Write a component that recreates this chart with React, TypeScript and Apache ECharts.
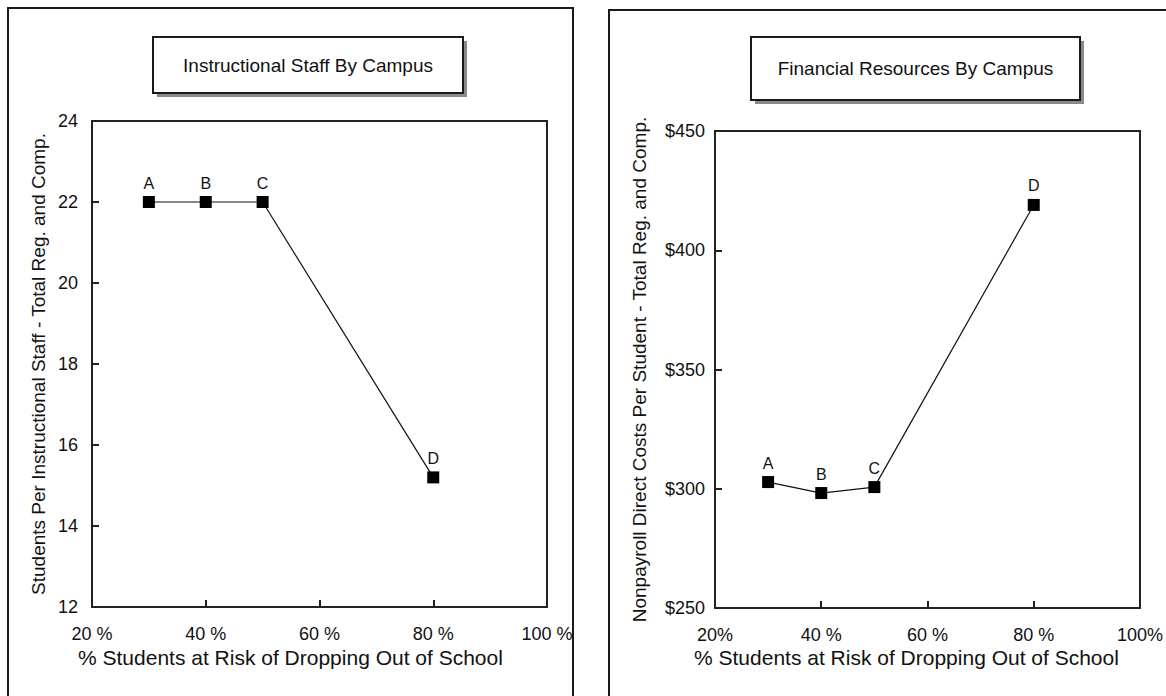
import React, { useEffect, useRef } from "react";
import * as echarts from "echarts";

const campuses = ["A", "B", "C", "D"];
const riskPct = [0.3, 0.4, 0.5, 0.8];
const staffRatio = [22, 22, 22, 15.2];
const costPerStudent = [302.8, 298.2, 300.7, 419];

const leftXTicks = ["20 %", "40 %", "60 %", "80 %", "100 %"];
const rightXTicks = ["20%", "40 %", "60 %", "80 %", "100%"];

const leftTitle = "Instructional Staff By Campus";
const rightTitle = "Financial Resources By Campus";
const xTitle = "% Students at Risk of Dropping Out of School";
const leftYTitle = "Students Per Instructional Staff - Total Reg. and Comp.";
const rightYTitle = "Nonpayroll Direct Costs Per Student - Total Reg. and Comp.";

const FONT = "'Liberation Sans', Arial, sans-serif";

function tickFormatter(ticks: string[]) {
  return (v: number) => {
    const idx = Math.round((v - 0.2) / 0.2);
    return ticks[idx] ?? "";
  };
}

function titleBox(x: number, y: number, w: number, h: number, text: string) {
  return [
    {
      type: "rect",
      shape: { x: x + 4, y: y + 4, width: w, height: h },
      style: { fill: "#8a8a8a" },
      silent: true,
    },
    {
      type: "rect",
      shape: { x, y, width: w, height: h },
      style: { fill: "#fff", stroke: "#1a1a1a", lineWidth: 2 },
      silent: true,
    },
    {
      type: "text",
      x: x + w / 2,
      y: y + h / 2,
      style: {
        text,
        fill: "#111",
        font: `19px ${FONT}`,
        textAlign: "center",
        textVerticalAlign: "middle",
      },
      silent: true,
    },
  ];
}

export default function App() {
  const ref = useRef<HTMLDivElement>(null);

  useEffect(() => {
    if (!ref.current) return;
    const chart = echarts.init(ref.current, null, { renderer: "svg" });

    const axisLabelStyle = { color: "#111", fontSize: 18, fontFamily: FONT };
    const lineSeries = (xi: number, values: number[]) => ({
      type: "line",
      xAxisIndex: xi,
      yAxisIndex: xi,
      data: riskPct.map((x, i) => [x, values[i]]),
      symbol: "rect",
      symbolSize: 12,
      itemStyle: { color: "#000" },
      lineStyle: { color: "#111", width: 1.2 },
      label: {
        show: true,
        position: "top",
        distance: 5,
        color: "#111",
        fontSize: 16,
        fontFamily: FONT,
        formatter: (p: any) => campuses[p.dataIndex],
      },
      z: 5,
    });

    chart.setOption({
      animation: false,
      backgroundColor: "#fff",
      grid: [
        { left: 92, top: 121, width: 455, height: 486, show: true, borderColor: "#222", borderWidth: 2, backgroundColor: "transparent" },
        { left: 715, top: 131, width: 433, height: 477, show: true, borderColor: "#222", borderWidth: 2, backgroundColor: "transparent" },
      ],
      xAxis: [0, 1].map((i) => ({
        type: "value",
        gridIndex: i,
        min: 0.2,
        max: 1.0,
        interval: 0.2,
        axisLine: { show: false },
        axisTick: { show: true, inside: true, length: 7, lineStyle: { color: "#222", width: 2 } },
        splitLine: { show: false },
        axisLabel: {
          ...axisLabelStyle,
          margin: 18,
          formatter: tickFormatter(i === 0 ? leftXTicks : rightXTicks),
        },
      })),
      yAxis: [
        {
          type: "value",
          gridIndex: 0,
          min: 12,
          max: 24,
          interval: 2,
          axisLine: { show: false },
          axisTick: { show: true, inside: true, length: 7, lineStyle: { color: "#222", width: 2 } },
          splitLine: { show: false },
          axisLabel: { ...axisLabelStyle, margin: 14 },
          name: leftYTitle,
          nameLocation: "middle",
          nameGap: 44,
          nameTextStyle: { color: "#111", fontSize: 19, fontFamily: FONT },
        },
        {
          type: "value",
          gridIndex: 1,
          min: 250,
          max: 450,
          interval: 50,
          axisLine: { show: false },
          axisTick: { show: true, inside: true, length: 7, lineStyle: { color: "#222", width: 2 } },
          splitLine: { show: false },
          axisLabel: { ...axisLabelStyle, margin: 10, formatter: (v: number) => "$" + v },
          name: rightYTitle,
          nameLocation: "middle",
          nameGap: 66,
          nameTextStyle: { color: "#111", fontSize: 19, fontFamily: FONT },
        },
      ],
      graphic: [
        {
          type: "rect",
          shape: { x: 8, y: 8, width: 565, height: 720 },
          style: { fill: "none", stroke: "#1a1a1a", lineWidth: 2 },
          silent: true,
        },
        {
          type: "rect",
          shape: { x: 609, y: 10, width: 600, height: 720 },
          style: { fill: "none", stroke: "#1a1a1a", lineWidth: 2 },
          silent: true,
        },
        ...titleBox(153, 37, 310, 56, leftTitle),
        ...titleBox(751, 37, 329, 63, rightTitle),
        {
          type: "text",
          x: 78,
          y: 657,
          style: { text: xTitle, fill: "#111", font: `21px ${FONT}`, textAlign: "left", textVerticalAlign: "middle" },
          silent: true,
        },
        {
          type: "text",
          x: 694,
          y: 657,
          style: { text: xTitle, fill: "#111", font: `21px ${FONT}`, textAlign: "left", textVerticalAlign: "middle" },
          silent: true,
        },
      ],
      series: [lineSeries(0, staffRatio), lineSeries(1, costPerStudent)],
    });

    return () => chart.dispose();
  }, []);

  return (
    <div
      ref={ref}
      style={{ position: "fixed", left: 0, top: 0, width: 1166, height: 696 }}
    />
  );
}
